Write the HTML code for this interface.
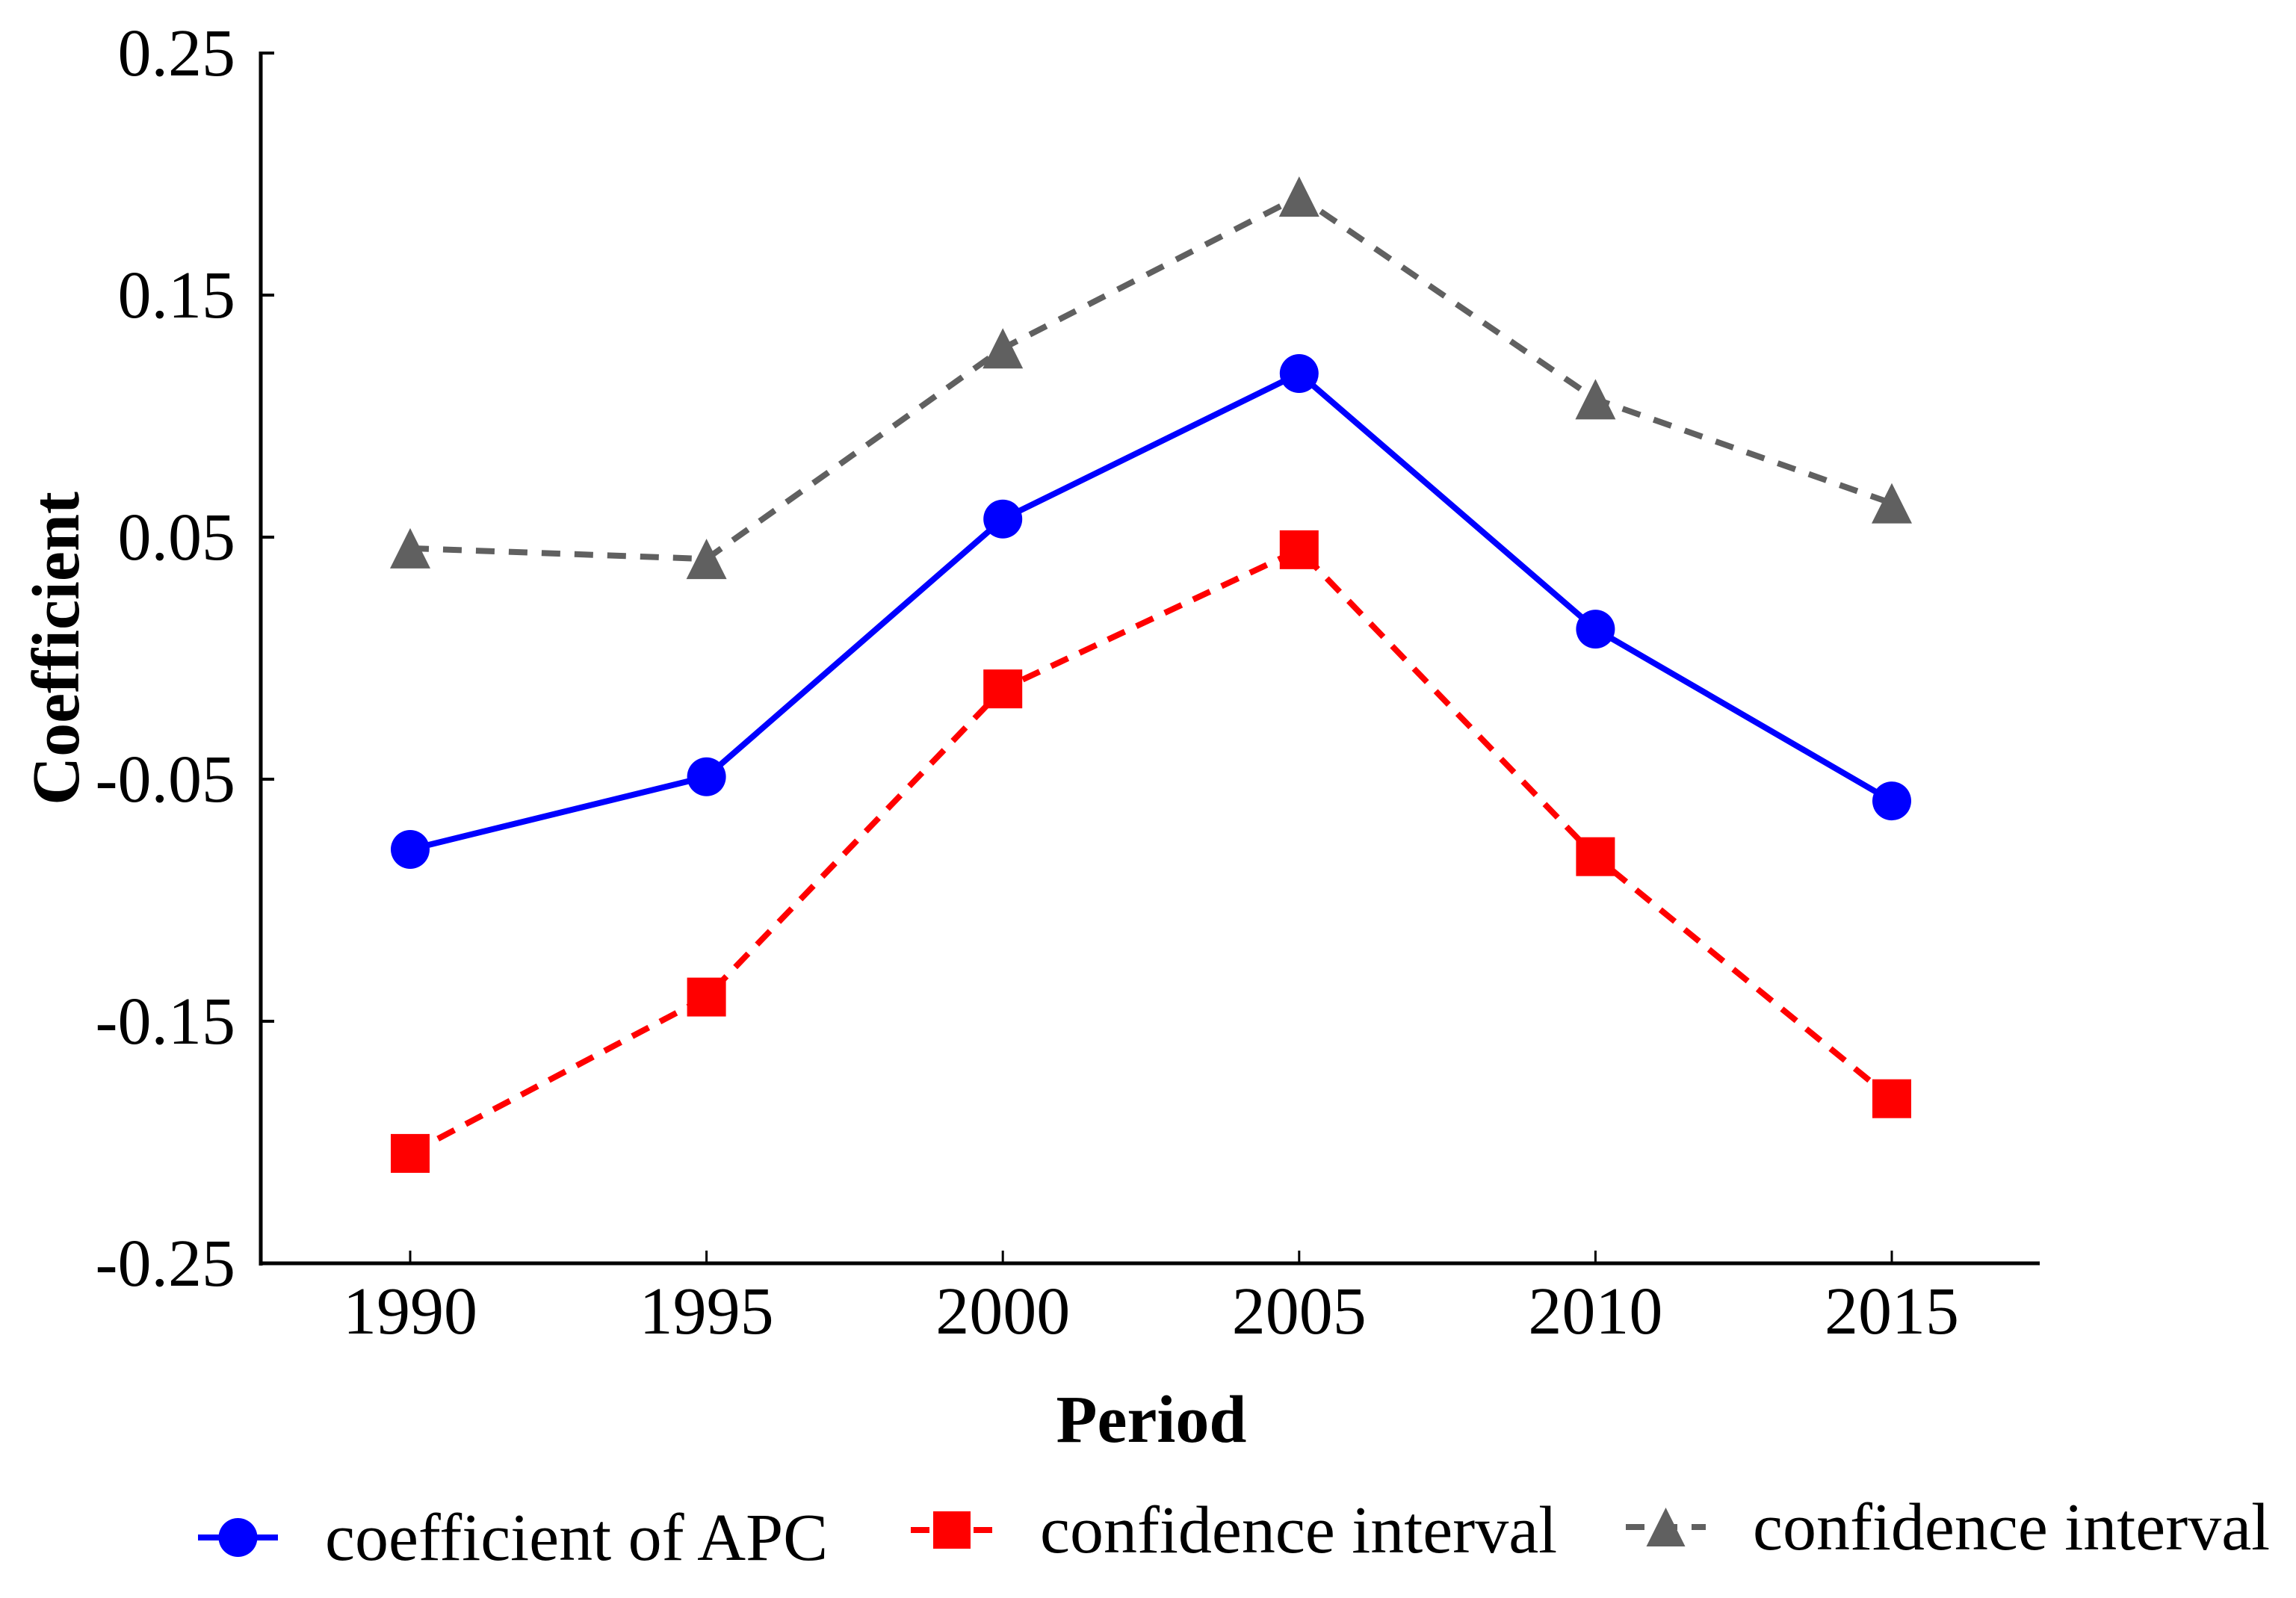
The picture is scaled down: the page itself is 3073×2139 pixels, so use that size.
<!DOCTYPE html>
<html><head><meta charset="utf-8"><style>
html,body{margin:0;padding:0;background:#fff;}
svg{display:block;}
text{font-family:"Liberation Serif",serif;fill:#000;}
</style></head><body>
<svg id="chart" width="3073" height="2139" viewBox="0 0 3073 2139" xmlns="http://www.w3.org/2000/svg">
<g id="axes"></g>
<g id="series"></g>
<text x="1541" y="1930" font-size="90" font-weight="bold" text-anchor="middle">Period</text>
<text transform="translate(105,868) rotate(-90)" font-size="90" font-weight="bold" text-anchor="middle">Coefficient</text>
<g id="legend"></g>
</svg>
<script>
const categories = [1990, 1995, 2000, 2005, 2010, 2015];
const apcValues = [-0.079, -0.049, 0.0575, 0.1176, 0.012, -0.059];
const lowerValues = [-0.2046, -0.140, -0.0127, 0.0448, -0.082, -0.182];
const upperValues = [0.0454, 0.041, 0.128, 0.1907, 0.107, 0.064];
const yTicks = [0.25, 0.15, 0.05, -0.05, -0.15, -0.25];
const yTickLabels = ["0.25", "0.15", "0.05", "-0.05", "-0.15", "-0.25"];

const NS = "http://www.w3.org/2000/svg";
const X0 = 349, XR = 2730, Y_TOP = 71, Y_BOT = 1691;
function xScale(i){ return 549 + i * 396.6; }
function yScale(v){ return Y_TOP + (0.25 - v) / 0.5 * (Y_BOT - Y_TOP); }
function mk(tag, attrs, parent){
  const e = document.createElementNS(NS, tag);
  for (const k in attrs) e.setAttribute(k, attrs[k]);
  parent.appendChild(e);
  return e;
}
const axes = document.getElementById('axes');
let el = mk('line', {x1:X0, y1:Y_TOP-2, x2:X0, y2:Y_BOT+3, stroke:'#000', 'stroke-width':5}, axes);


el = mk('line', {x1:X0-2, y1:Y_BOT, x2:XR, y2:Y_BOT, stroke:'#000', 'stroke-width':5}, axes);


yTicks.forEach((v, i) => {
  const y = yScale(v);
  const t = mk('line', {x1:X0, y1:y, x2:X0+18, y2:y, stroke:'#000', 'stroke-width':4}, axes);
  
  
  const l = mk('text', {x:315, y:y+30, 'font-size':90, 'text-anchor':'end'}, axes);
  l.textContent = yTickLabels[i];
  
  
});
categories.forEach((c, i) => {
  const x = xScale(i);
  const t = mk('line', {x1:x, y1:Y_BOT, x2:x, y2:Y_BOT-17, stroke:'#000', 'stroke-width':3}, axes);
  
  
  const l = mk('text', {x:x, y:1785, 'font-size':90, 'text-anchor':'middle'}, axes);
  l.textContent = String(c);
  
  
});

function marker(kind, x, y, color, parent, s){
  let m;
  if (kind === 'circle') m = mk('circle', {cx:x, cy:y, r:s/2, fill:color}, parent);
  else if (kind === 'square') m = mk('rect', {x:x-s/2, y:y-s/2, width:s, height:s, fill:color}, parent);
  else m = mk('polygon', {points:`${x},${y-s/2} ${x+s/2},${y+s/2} ${x-s/2},${y+s/2}`, fill:color}, parent);
  return m;
}
const seriesG = document.getElementById('series');
const seriesDefs = [
  {vals: upperValues, color:'#606060', dash:'25 19', kind:'tri', size:54, name:'upper-ci'},
  {vals: lowerValues, color:'#ff0000', dash:'25 17', kind:'square', size:52, name:'lower-ci'},
  {vals: apcValues, color:'#0000ff', dash:null, kind:'circle', size:52, name:'apc'}
];
seriesDefs.forEach(s => {
  const g = mk('g', {}, seriesG);
  
  
  const pts = s.vals.map((v, i) => xScale(i) + ',' + yScale(v)).join(' ');
  const line = mk('polyline', {points:pts, fill:'none', stroke:s.color, 'stroke-width':8}, g);
  if (s.dash) line.setAttribute('stroke-dasharray', s.dash);
  
  
  s.vals.forEach((v, i) => {
    const m = marker(s.kind, xScale(i), yScale(v), s.color, g, s.size);
    
    
  });
});

const legend = document.getElementById('legend');
const legendItems = [
  {x1:265, x2:372, y:2058, color:'#0000ff', dash:null, kind:'circle', size:52, tx:435, ty:2088, label:'coefficient of APC'},
  {x1:1219, x2:1329, y:2048, color:'#ff0000', dash:'25 17', kind:'square', size:50, tx:1392, ty:2078, label:'confidence interval'},
  {x1:2176, x2:2283, y:2044, color:'#606060', dash:'25 19', kind:'tri', size:52, tx:2346, ty:2074, label:'confidence interval'}
];
legendItems.forEach(it => {
  const g = mk('g', {}, legend);
  
  
  const ln = mk('line', {x1:it.x1, y1:it.y, x2:it.x2, y2:it.y, stroke:it.color, 'stroke-width':8}, g);
  if (it.dash) ln.setAttribute('stroke-dasharray', it.dash);
  marker(it.kind, (it.x1+it.x2)/2, it.y, it.color, g, it.size);
  const t = mk('text', {x:it.tx, y:it.ty, 'font-size':90}, g);
  t.textContent = it.label;
});
</script>
</body></html>
